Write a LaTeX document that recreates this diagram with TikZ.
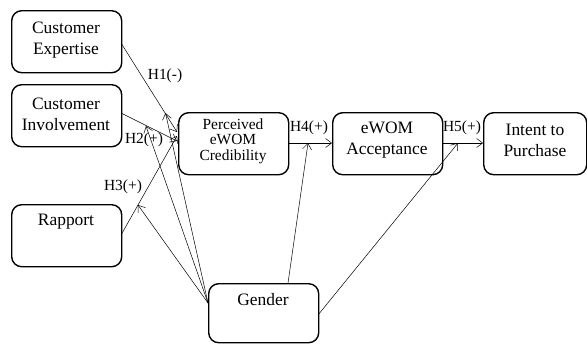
\documentclass[tikz,border=0pt]{standalone}
\usepackage{fontspec}
\setmainfont{Liberation Serif}
\usetikzlibrary{arrows.meta}
\begin{document}
\begin{tikzpicture}[x=1bp,y=-1bp,
  box/.style={draw,line width=1.4bp,rounded corners=10bp,minimum width=110bp,minimum height=62bp,inner sep=0pt,anchor=north west},
  boxtxt/.style={font=\fontsize{17.5}{21}\selectfont,align=center},
  smalltxt/.style={font=\fontsize{15.5}{15.5}\selectfont,align=center},
  lbl/.style={font=\fontsize{15.5}{16}\selectfont,inner sep=0pt},
  arr/.style={line width=0.5bp,-{Straight Barb[length=6bp,width=9bp]}},
  ln/.style={line width=0.5bp}]
\useasboundingbox (0,0) rectangle (587,343);
% boxes
\node[box] (exp) at (11,10) {};
\node[boxtxt] at (66,40) {Customer\\Expertise};
\node[box] (inv) at (11,84) {};
\node[boxtxt] at (66,114) {Customer\\Involvement};
\node[box] (rap) at (11,204) {};
\node[boxtxt] at (66,222) {Rapport};
\node[box] (cred) at (178,112) {};
\node[smalltxt] at (233,141) {Perceived\\eWOM\\Credibility};
\node[box] (acc) at (332,112) {};
\node[boxtxt] at (387,140) {eWOM\\Acceptance};
\node[box,minimum width=103bp] (int) at (483,112) {};
\node[boxtxt] at (535,140) {Intent to\\Purchase};
\node[box,minimum height=59bp] (gen) at (208,283) {};
\node[boxtxt] at (263,300) {Gender};
% connection points
\coordinate (e1) at (121,43);
\coordinate (e2) at (177,132);
\coordinate (i1) at (121,113);
\coordinate (i2) at (177,141);
\coordinate (r1) at (121,235);
\coordinate (r2) at (177,136);
\coordinate (m1) at (165.5,113);
\coordinate (m2) at (146,126);
\coordinate (m3) at (138,205);
\coordinate (m4) at (308,143);
\coordinate (m5) at (458,143);
\coordinate (gl) at (208,303);
\coordinate (gt) at (288,283);
\coordinate (gr) at (318,315);
\draw[arr] (e1) -- (e2);
\draw[arr] (i1) -- (i2);
\draw[arr] (r1) -- (r2);
\draw[arr] (cred.east |- 0,143) -- (acc.west |- 0,143);
\draw[arr] (acc.east |- 0,143) -- (int.west |- 0,143);
\draw[arr] (gl) -- (m1);
\draw[arr] (gl) -- (m2);
\draw[arr] (gl) -- (m3);
\draw[arr] (gt) -- (m4);
\draw[arr] (gr) -- (m5);
% labels
\node[lbl] (h1) at (165,76) {H1(-)};
\node[lbl] (h2) at (144,140) {H2(+)};
\node[lbl] (h3) at (123,187) {H3(+)};
\node[lbl] (h4) at (309,128) {H4(+)};
\node[lbl] (h5) at (462,128) {H5(+)};
\end{tikzpicture}
\end{document}
